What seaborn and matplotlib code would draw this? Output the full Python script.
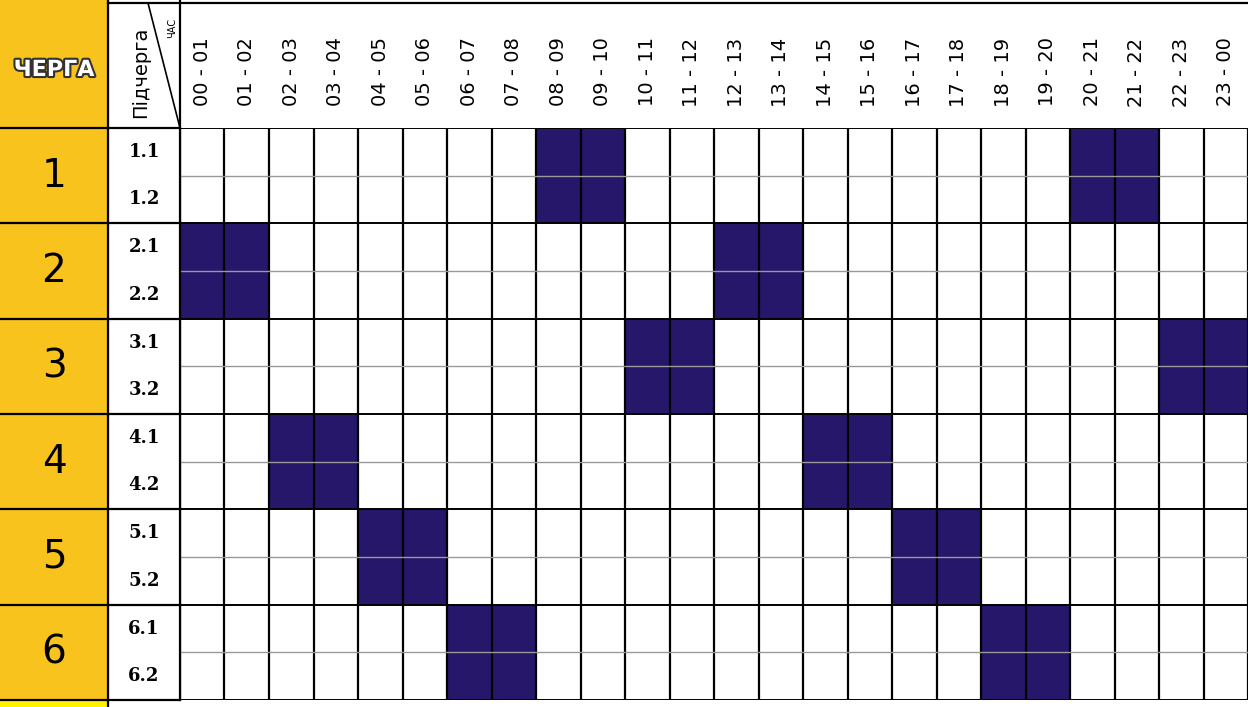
import numpy as np
import pandas as pd
import matplotlib
matplotlib.use("Agg")
import matplotlib.pyplot as plt
import matplotlib.patheffects as pe
from matplotlib.colors import ListedColormap
import seaborn as sns

# ── Data ──────────────────────────────────────────────
queues = ["1", "2", "3", "4", "5", "6"]
subqueues = ["1.1", "1.2", "2.1", "2.2", "3.1", "3.2",
             "4.1", "4.2", "5.1", "5.2", "6.1", "6.2"]
hours = [f"{h:02d} - {(h + 1) % 24:02d}" for h in range(24)]
# hour indices with power off, per queue (both subqueues the same)
off_hours = {
    "1": [8, 9, 20, 21],
    "2": [0, 1, 12, 13],
    "3": [10, 11, 22, 23],
    "4": [2, 3, 14, 15],
    "5": [4, 5, 16, 17],
    "6": [6, 7, 18, 19],
}

grid = np.zeros((len(subqueues), len(hours)))
for i, sq in enumerate(subqueues):
    grid[i, off_hours[sq.split(".")[0]]] = 1
df = pd.DataFrame(grid, index=subqueues, columns=hours)

# ── Layout (pixels) ───────────────────────────────────
W, H = 1248, 707
X0, X1, X2 = 0, 108, 180
Y0, Y1, Y2 = 0, 128, 700
YELLOW = "#f8c31c"
NAVY = "#26176b"

fig = plt.figure(figsize=(W / 100, H / 100), dpi=100)
fig.patch.set_facecolor("white")

ax = fig.add_axes([X2 / W, 1 - Y2 / H, (W - X2) / W, (Y2 - Y1) / H])
sns.heatmap(df, ax=ax, cmap=ListedColormap(["white", NAVY]), cbar=False,
            linewidths=0, xticklabels=False, yticklabels=False, vmin=0, vmax=1)
for j in range(len(hours) + 1):
    ax.axvline(j, color="black", lw=1.6)
for i in range(len(subqueues) + 1):
    ax.axhline(i, color="black" if i % 2 == 0 else "#999999", lw=1.4 if i % 2 == 0 else 1.0)
ax.set_xlim(0, 24)
ax.set_ylim(12, 0)

# overlay for the header and left columns
ov = fig.add_axes([0, 0, 1, 1])
ov.set_xlim(0, W)
ov.set_ylim(H, 0)
ov.axis("off")

ov.add_patch(plt.Rectangle((X0, Y0), X1, Y2, color=YELLOW, zorder=0))
ov.plot([X1, X1], [Y0, H], color="black", lw=1.6)
ov.plot([X2, X2], [Y0, Y2], color="black", lw=1.6)
ov.plot([X1, W], [Y0 + 3, Y0 + 3], color="black", lw=1.6)
ov.plot([X0, X2], [Y1, Y1], color="black", lw=1.6)
ov.plot([148, X2], [Y0 + 3, Y1], color="black", lw=1.2)
ov.add_patch(plt.Rectangle((X0, Y2), X1, H - Y2, color="#fff200", zorder=0))

ov.text(X1 / 2, Y1 / 2 + 6, "ЧЕРГА", ha="center", va="center", fontsize=16,
        fontweight="bold", color="white",
        path_effects=[pe.withStroke(linewidth=3, foreground="#333333")])
ov.text(141, 72, "Підчерга", rotation=90, ha="center", va="center", fontsize=14)
ov.text(172, 28, "ЧАС", rotation=90, ha="center", va="center", fontsize=7)

hw = (W - X2) / len(hours)
for j, h in enumerate(hours):
    ov.text(X2 + hw * (j + 0.5), 72, h, rotation=90, ha="center", va="center",
            fontsize=14)

rh = (Y2 - Y1) / len(subqueues)
for i, sq in enumerate(subqueues):
    ov.text((X1 + X2) / 2, Y1 + rh * (i + 0.5), sq, ha="center", va="center",
            fontsize=13, family="DejaVu Serif", fontweight="bold")
for k, q in enumerate(queues):
    yc = Y1 + rh * (2 * k + 1)
    ov.text(X1 / 2, yc, q, ha="center", va="center", fontsize=28)
    ov.plot([X0, X2], [Y1 + rh * 2 * (k + 1)] * 2, color="black", lw=1.6)

fig.savefig("out.png", dpi=100)
